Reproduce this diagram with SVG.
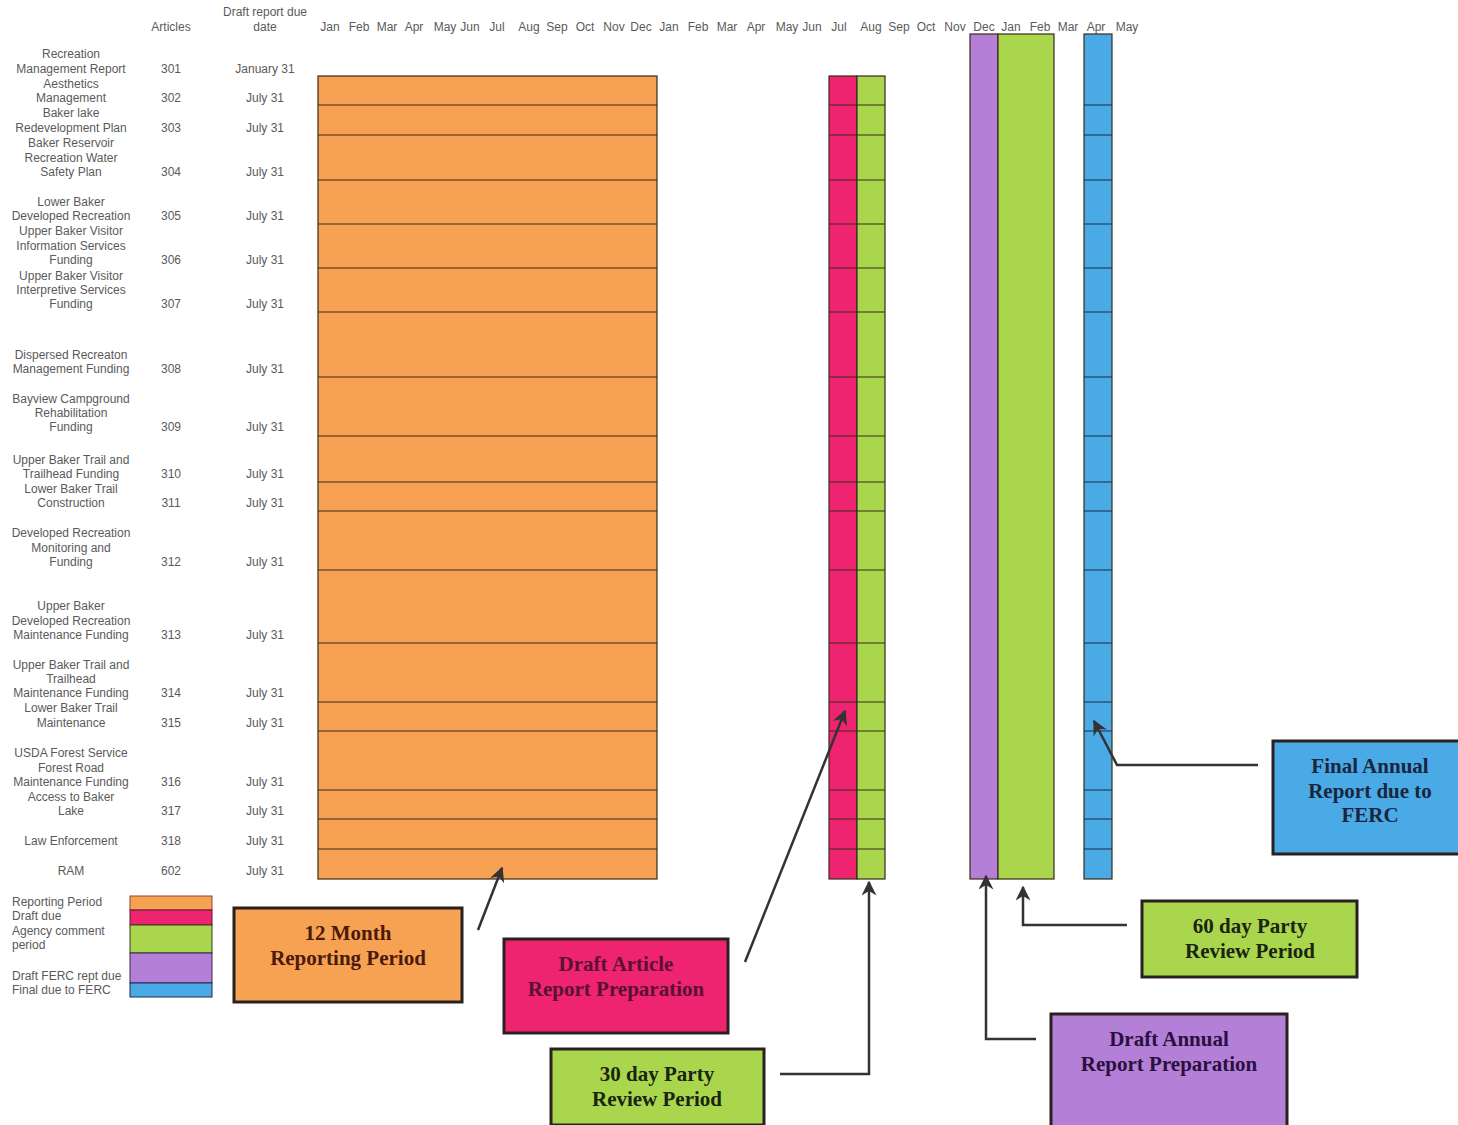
<svg xmlns="http://www.w3.org/2000/svg" width="1458" height="1125" viewBox="0 0 1458 1125">
<style>
.lbl{font-family:"Liberation Sans",Arial,sans-serif;font-size:12px;fill:#5a5a5a;text-anchor:middle}
.leg{font-family:"Liberation Sans",Arial,sans-serif;font-size:12px;fill:#5a5a5a;text-anchor:start}
.cell{stroke:#3a2a1a;stroke-width:1.2}
.or{fill:#F7A152}.pk{fill:#EF2470}.gr{fill:#A9D64C}.pu{fill:#B47FD6}.bl{fill:#4AAAE6}
.box{stroke:#2a2020;stroke-width:3}
.ct{font-family:"Liberation Serif","Times New Roman",serif;font-weight:bold;font-size:21px;text-anchor:middle}
.conn{fill:none;stroke:#333;stroke-width:2.5}
</style>
<defs>
<marker id="ah" viewBox="0 0 10 10" refX="9" refY="5" markerWidth="6" markerHeight="6" orient="auto" markerUnits="strokeWidth">
<path d="M0,0 L10,5 L0,10 L3,5 Z" fill="#333"/>
</marker>
</defs>
<rect width="1458" height="1125" fill="#fff"/>

<g id="header">
<text class="lbl" x="171" y="31">Articles</text>
<text class="lbl" x="265" y="16">Draft report due</text>
<text class="lbl" x="265" y="31">date</text>
<text class="lbl" x="330" y="31">Jan</text><text class="lbl" x="359" y="31">Feb</text><text class="lbl" x="387" y="31">Mar</text><text class="lbl" x="414" y="31">Apr</text><text class="lbl" x="445" y="31">May</text><text class="lbl" x="470" y="31">Jun</text><text class="lbl" x="497" y="31">Jul</text><text class="lbl" x="529" y="31">Aug</text><text class="lbl" x="557" y="31">Sep</text><text class="lbl" x="585" y="31">Oct</text><text class="lbl" x="614" y="31">Nov</text><text class="lbl" x="641" y="31">Dec</text>
<text class="lbl" x="669" y="31">Jan</text><text class="lbl" x="698" y="31">Feb</text><text class="lbl" x="727" y="31">Mar</text><text class="lbl" x="756" y="31">Apr</text><text class="lbl" x="787" y="31">May</text><text class="lbl" x="812" y="31">Jun</text><text class="lbl" x="839" y="31">Jul</text><text class="lbl" x="871" y="31">Aug</text><text class="lbl" x="899" y="31">Sep</text><text class="lbl" x="926" y="31">Oct</text><text class="lbl" x="955" y="31">Nov</text><text class="lbl" x="984" y="31">Dec</text>
<text class="lbl" x="1011" y="31">Jan</text><text class="lbl" x="1040" y="31">Feb</text><text class="lbl" x="1068" y="31">Mar</text><text class="lbl" x="1096" y="31">Apr</text><text class="lbl" x="1127" y="31">May</text>
</g>

<g id="row-labels">
<text class="lbl" x="71" y="58">Recreation</text><text class="lbl" x="71" y="73">Management Report</text>
<text class="lbl" x="71" y="88">Aesthetics</text><text class="lbl" x="71" y="102">Management</text>
<text class="lbl" x="71" y="117">Baker lake</text><text class="lbl" x="71" y="132">Redevelopment Plan</text>
<text class="lbl" x="71" y="147">Baker Reservoir</text><text class="lbl" x="71" y="162">Recreation Water</text><text class="lbl" x="71" y="176">Safety Plan</text>
<text class="lbl" x="71" y="206">Lower Baker</text><text class="lbl" x="71" y="220">Developed Recreation</text>
<text class="lbl" x="71" y="235">Upper Baker Visitor</text><text class="lbl" x="71" y="250">Information Services</text><text class="lbl" x="71" y="264">Funding</text>
<text class="lbl" x="71" y="280">Upper Baker Visitor</text><text class="lbl" x="71" y="294">Interpretive  Services</text><text class="lbl" x="71" y="308">Funding</text>
<text class="lbl" x="71" y="359">Dispersed Recreaton</text><text class="lbl" x="71" y="373">Management Funding</text>
<text class="lbl" x="71" y="403">Bayview Campground</text><text class="lbl" x="71" y="417">Rehabilitation</text><text class="lbl" x="71" y="431">Funding</text>
<text class="lbl" x="71" y="464">Upper Baker Trail and</text><text class="lbl" x="71" y="478">Trailhead Funding</text>
<text class="lbl" x="71" y="493">Lower Baker Trail</text><text class="lbl" x="71" y="507">Construction</text>
<text class="lbl" x="71" y="537">Developed Recreation</text><text class="lbl" x="71" y="552">Monitoring and</text><text class="lbl" x="71" y="566">Funding</text>
<text class="lbl" x="71" y="610">Upper Baker</text><text class="lbl" x="71" y="625">Developed Recreation</text><text class="lbl" x="71" y="639">Maintenance Funding</text>
<text class="lbl" x="71" y="669">Upper Baker Trail and</text><text class="lbl" x="71" y="683">Trailhead</text><text class="lbl" x="71" y="697">Maintenance Funding</text>
<text class="lbl" x="71" y="712">Lower Baker Trail</text><text class="lbl" x="71" y="727">Maintenance</text>
<text class="lbl" x="71" y="757">USDA Forest Service</text><text class="lbl" x="71" y="772">Forest Road</text><text class="lbl" x="71" y="786">Maintenance Funding</text>
<text class="lbl" x="71" y="801">Access to Baker</text><text class="lbl" x="71" y="815">Lake</text>
<text class="lbl" x="71" y="845">Law Enforcement</text>
<text class="lbl" x="71" y="875">RAM</text>
</g>

<g id="articles">
<text class="lbl" x="171" y="73">301</text><text class="lbl" x="171" y="102">302</text><text class="lbl" x="171" y="132">303</text><text class="lbl" x="171" y="176">304</text><text class="lbl" x="171" y="220">305</text><text class="lbl" x="171" y="264">306</text><text class="lbl" x="171" y="308">307</text><text class="lbl" x="171" y="373">308</text><text class="lbl" x="171" y="431">309</text><text class="lbl" x="171" y="478">310</text><text class="lbl" x="171" y="507">311</text><text class="lbl" x="171" y="566">312</text><text class="lbl" x="171" y="639">313</text><text class="lbl" x="171" y="697">314</text><text class="lbl" x="171" y="727">315</text><text class="lbl" x="171" y="786">316</text><text class="lbl" x="171" y="815">317</text><text class="lbl" x="171" y="845">318</text><text class="lbl" x="171" y="875">602</text>
</g>

<g id="dates">
<text class="lbl" x="265" y="73">January 31</text><text class="lbl" x="265" y="102">July 31</text><text class="lbl" x="265" y="132">July 31</text><text class="lbl" x="265" y="176">July 31</text><text class="lbl" x="265" y="220">July 31</text><text class="lbl" x="265" y="264">July 31</text><text class="lbl" x="265" y="308">July 31</text><text class="lbl" x="265" y="373">July 31</text><text class="lbl" x="265" y="431">July 31</text><text class="lbl" x="265" y="478">July 31</text><text class="lbl" x="265" y="507">July 31</text><text class="lbl" x="265" y="566">July 31</text><text class="lbl" x="265" y="639">July 31</text><text class="lbl" x="265" y="697">July 31</text><text class="lbl" x="265" y="727">July 31</text><text class="lbl" x="265" y="786">July 31</text><text class="lbl" x="265" y="815">July 31</text><text class="lbl" x="265" y="845">July 31</text><text class="lbl" x="265" y="875">July 31</text>
</g>

<g id="bar-reporting">
<rect class="or cell" x="318" y="76" width="339" height="803"/>
<path d="M318,105H657M318,135H657M318,180H657M318,224H657M318,268H657M318,312H657M318,377H657M318,436H657M318,482H657M318,511H657M318,570H657M318,643H657M318,702H657M318,731H657M318,790H657M318,819H657M318,849H657" stroke="#3a2a1a" stroke-width="1.2"/>
</g>

<g id="bar-draft">
<rect class="pk cell" x="829" y="76" width="28" height="803"/>
<path d="M829,105H857M829,135H857M829,180H857M829,224H857M829,268H857M829,312H857M829,377H857M829,436H857M829,482H857M829,511H857M829,570H857M829,643H857M829,702H857M829,731H857M829,790H857M829,819H857M829,849H857" stroke="#3a2a1a" stroke-width="1.2"/>
</g>

<g id="bar-agency">
<rect class="gr cell" x="857" y="76" width="28" height="803"/>
<path d="M857,105H885M857,135H885M857,180H885M857,224H885M857,268H885M857,312H885M857,377H885M857,436H885M857,482H885M857,511H885M857,570H885M857,643H885M857,702H885M857,731H885M857,790H885M857,819H885M857,849H885" stroke="#3a2a1a" stroke-width="1.2"/>
</g>

<g id="bar-draft-ferc">
<rect class="pu cell" x="970" y="34" width="28" height="845"/>
</g>
<g id="bar-60day">
<rect class="gr cell" x="998" y="34" width="56" height="845"/>
</g>
<g id="bar-final">
<rect class="bl cell" x="1084" y="34" width="28" height="845"/>
<path d="M1084,105H1112M1084,135H1112M1084,180H1112M1084,224H1112M1084,268H1112M1084,312H1112M1084,377H1112M1084,436H1112M1084,482H1112M1084,511H1112M1084,570H1112M1084,643H1112M1084,702H1112M1084,731H1112M1084,790H1112M1084,819H1112M1084,849H1112" stroke="#1a2a4a" stroke-width="1.2"/>
</g>

<g id="legend">
<text class="leg" x="12" y="906">Reporting Period</text>
<text class="leg" x="12" y="920">Draft due</text>
<text class="leg" x="12" y="935">Agency comment</text>
<text class="leg" x="12" y="949">period</text>
<text class="leg" x="12" y="980">Draft  FERC rept due</text>
<text class="leg" x="12" y="994">Final due to FERC</text>
<rect class="or" x="130" y="896" width="82" height="14" stroke="#8a4a2a" stroke-width="1"/>
<rect class="pk" x="130" y="910" width="82" height="15" stroke="#5a1a2a" stroke-width="1"/>
<rect class="gr" x="130" y="925" width="82" height="28" stroke="#3a3a2a" stroke-width="1"/>
<rect class="pu" x="130" y="953" width="82" height="30" stroke="#3a2a4a" stroke-width="1"/>
<rect class="bl" x="130" y="983" width="82" height="14" stroke="#1a2a4a" stroke-width="1"/>
</g>

<g id="connectors">
<line class="conn" x1="478" y1="930" x2="502" y2="868" marker-end="url(#ah)"/>
<line class="conn" x1="745" y1="962" x2="845" y2="711" marker-end="url(#ah)"/>
<polyline class="conn" points="780,1074 869,1074 869,882" marker-end="url(#ah)"/>
<polyline class="conn" points="1258,765 1117,765 1094,721" marker-end="url(#ah)"/>
<polyline class="conn" points="1127,925 1023,925 1023,887" marker-end="url(#ah)"/>
<polyline class="conn" points="1036,1039 986,1039 986,876" marker-end="url(#ah)"/>
</g>

<g id="callout-12month">
<rect class="or box" x="234" y="908" width="228" height="94"/>
<text class="ct" x="348" y="940" fill="#4a1a0a">12 Month</text>
<text class="ct" x="348" y="965" fill="#4a1a0a">Reporting Period</text>
</g>
<g id="callout-draft-article">
<rect class="pk box" x="504" y="939" width="224" height="94"/>
<text class="ct" x="616" y="971" fill="#5a1035">Draft Article</text>
<text class="ct" x="616" y="996" fill="#5a1035">Report Preparation</text>
</g>
<g id="callout-30day">
<rect class="gr box" x="551" y="1049" width="213" height="76"/>
<text class="ct" x="657" y="1081" fill="#1a2410">30 day Party</text>
<text class="ct" x="657" y="1106" fill="#1a2410">Review Period</text>
</g>
<g id="callout-final">
<rect class="bl box" x="1273" y="741" width="190" height="113"/>
<text class="ct" x="1370" y="773" fill="#1a2540">Final Annual</text>
<text class="ct" x="1370" y="798" fill="#1a2540">Report due to</text>
<text class="ct" x="1370" y="822" fill="#1a2540">FERC</text>
</g>
<g id="callout-60day">
<rect class="gr box" x="1142" y="901" width="215" height="76"/>
<text class="ct" x="1250" y="933" fill="#1a2410">60 day Party</text>
<text class="ct" x="1250" y="958" fill="#1a2410">Review Period</text>
</g>
<g id="callout-draft-annual">
<rect class="pu box" x="1051" y="1014" width="236" height="115"/>
<text class="ct" x="1169" y="1046" fill="#2a1040">Draft Annual</text>
<text class="ct" x="1169" y="1071" fill="#2a1040">Report Preparation</text>
</g>
</svg>
